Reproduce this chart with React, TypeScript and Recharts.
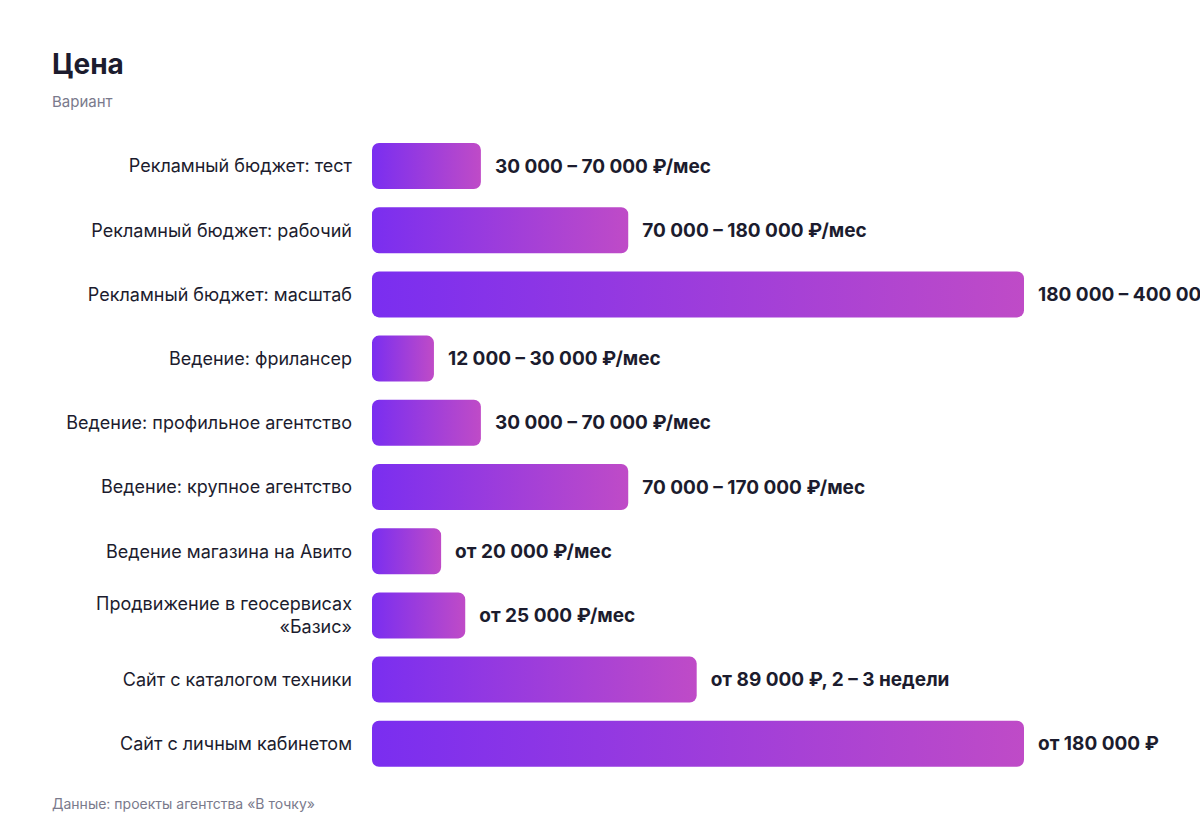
import { BarChart, Bar, XAxis, YAxis, LabelList } from "recharts";

const categories = [
  "Рекламный бюджет: тест",
  "Рекламный бюджет: рабочий",
  "Рекламный бюджет: масштаб",
  "Ведение: фрилансер",
  "Ведение: профильное агентство",
  "Ведение: крупное агентство",
  "Ведение магазина на Авито",
  "Продвижение в геосервисах «Базис»",
  "Сайт с каталогом техники",
  "Сайт с личным кабинетом",
];

// relative price index (max = 100)
const values = [16.7, 39.3, 100, 9.5, 16.7, 39.3, 10.6, 14.3, 49.8, 100];

const priceLabels = [
  "30 000 – 70 000 ₽/мес",
  "70 000 – 180 000 ₽/мес",
  "180 000 – 400 000 ₽/мес",
  "12 000 – 30 000 ₽/мес",
  "30 000 – 70 000 ₽/мес",
  "70 000 – 170 000 ₽/мес",
  "от 20 000 ₽/мес",
  "от 25 000 ₽/мес",
  "от 89 000 ₽, 2 – 3 недели",
  "от 180 000 ₽",
];

const data = categories.map((name, i) => ({
  name,
  value: values[i],
  label: priceLabels[i],
}));

const FONT = "Inter, 'Noto Sans', sans-serif";
const DARK = "#1c1c2e";
const GRAY = "#7a7a8c";

const CategoryTick = (props: any) => {
  const { x, y, payload } = props;
  const text: string = payload.value;
  let lines = [text];
  if (text.length > 30) {
    const idx = text.lastIndexOf(" ");
    lines = [text.slice(0, idx), text.slice(idx + 1)];
  }
  const lh = 23;
  const start = y - ((lines.length - 1) * lh) / 2;
  return (
    <text
      x={x}
      y={start}
      textAnchor="end"
      fill={DARK}
      fontSize={18}
      fontFamily={FONT}
    >
      {lines.map((l, i) => (
        <tspan key={i} x={x} y={start + i * lh} dy="0.35em">
          {l}
        </tspan>
      ))}
    </text>
  );
};

const PriceLabel = (props: any) => {
  const { x, y, width, height, value } = props;
  return (
    <text
      x={x + width + 14}
      y={y + height / 2}
      dy="0.35em"
      fill={DARK}
      fontSize={19}
      fontWeight={700}
      fontFamily={FONT}
    >
      {value}
    </text>
  );
};

export default function App() {
  return (
    <div
      style={{
        position: "absolute",
        left: 0,
        top: 0,
        width: 1200,
        height: 840,
        background: "#fff",
        overflow: "hidden",
        fontFamily: FONT,
      }}
    >
      <div
        style={{
          position: "absolute",
          left: 52,
          top: 46,
          fontSize: 28,
          fontWeight: 700,
          color: DARK,
          lineHeight: "36px",
        }}
      >
        Цена
      </div>
      <div
        style={{
          position: "absolute",
          left: 52,
          top: 93,
          fontSize: 15,
          color: GRAY,
          lineHeight: "18px",
        }}
      >
        Вариант
      </div>
      <BarChart
        width={1200}
        height={840}
        data={data}
        layout="vertical"
        margin={{ top: 134, right: 176, bottom: 64, left: 0 }}
        barCategoryGap={18}
      >
        <defs>
          <linearGradient id="barGrad" x1="0" y1="0" x2="1" y2="0">
            <stop offset="0%" stopColor="#7a2ef0" />
            <stop offset="100%" stopColor="#bf4bc7" />
          </linearGradient>
        </defs>
        <XAxis type="number" domain={[0, 100]} hide />
        <YAxis
          type="category"
          dataKey="name"
          width={372}
          axisLine={false}
          tickLine={false}
          tickSize={0}
          tickMargin={20}
          interval={0}
          tick={<CategoryTick />}
        />
        <Bar
          dataKey="value"
          fill="url(#barGrad)"
          radius={7}
          barSize={46}
          isAnimationActive={false}
        >
          <LabelList dataKey="label" content={<PriceLabel />} />
        </Bar>
      </BarChart>
      <div
        style={{
          position: "absolute",
          left: 52,
          top: 796,
          fontSize: 14,
          color: GRAY,
          lineHeight: "16px",
        }}
      >
        Данные: проекты агентства «В точку»
      </div>
    </div>
  );
}
